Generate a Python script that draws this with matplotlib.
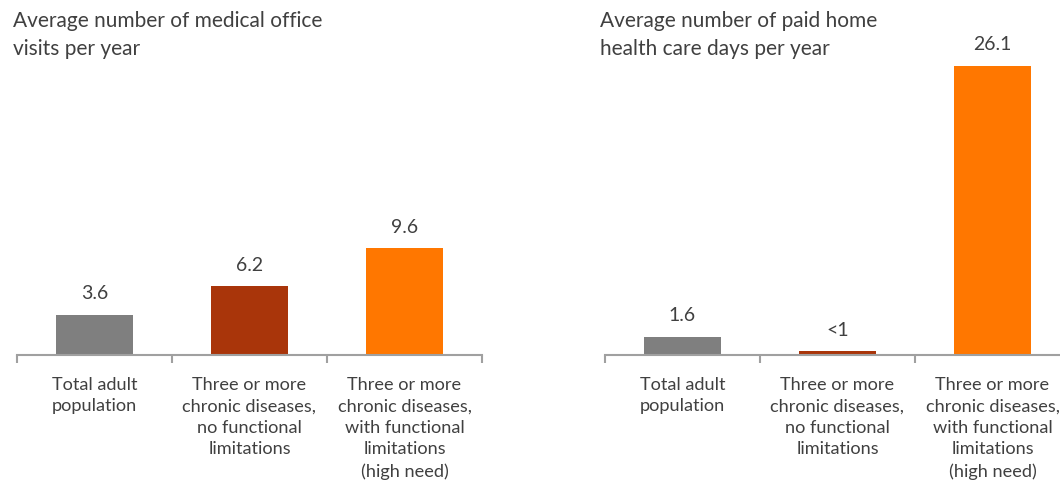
import matplotlib.pyplot as plt

plt.rcParams['font.family'] = ['Lato', 'DejaVu Sans']

categories = ["Total adult\npopulation",
              "Three or more\nchronic diseases,\nno functional\nlimitations",
              "Three or more\nchronic diseases,\nwith functional\nlimitations\n(high need)"]
office_visits = [3.6, 6.2, 9.6]
office_labels = ["3.6", "6.2", "9.6"]
home_days = [1.6, 0.3, 26.1]
home_labels = ["1.6", "<1", "26.1"]
titles = ["Average number of medical office\nvisits per year",
          "Average number of paid home\nhealth care days per year"]
colors = ["#7f7f7f", "#a9350a", "#ff7700"]

text_color = "#404040"
W, H = 1060, 487
fig = plt.figure(figsize=(W / 100, H / 100), dpi=100)

base = (H - 354.7) / H
height = 310 / H
panels = [(17, office_visits, office_labels, titles[0], 13),
          (605, home_days, home_labels, titles[1], 600)]

for left, vals, labs, title, tx in panels:
    ax = fig.add_axes([left / W, base, 465 / W, height])
    x = range(len(vals))
    bars = ax.bar(x, vals, width=0.5, color=colors)
    for b, lab in zip(bars, labs):
        ax.annotate(lab, (b.get_x() + b.get_width() / 2, b.get_height()),
                    xytext=(0, 9), textcoords='offset points',
                    ha='center', va='bottom', fontsize=14, color=text_color)
    ax.set_xlim(-0.5, 2.5)
    ax.set_ylim(0, 28)
    for s in ['top', 'left', 'right']:
        ax.spines[s].set_visible(False)
    ax.spines['bottom'].set_color('#a0a0a0')
    ax.spines['bottom'].set_linewidth(1.5)
    ax.set_yticks([])
    ax.set_xticks(list(x))
    ax.set_xticklabels(categories, fontsize=13.1, color=text_color, linespacing=1.42)
    ax.tick_params(axis='x', which='major', length=0, pad=16)
    ax.set_xticks([-0.5, 0.5, 1.5, 2.5], minor=True)
    ax.tick_params(axis='x', which='minor', length=6, width=1.5, color='#a0a0a0')
    fig.text(tx / W, 1 - 11 / H, title, ha='left', va='top', fontsize=15,
             color=text_color, linespacing=1.5)

fig.savefig('out.png', dpi=100)
